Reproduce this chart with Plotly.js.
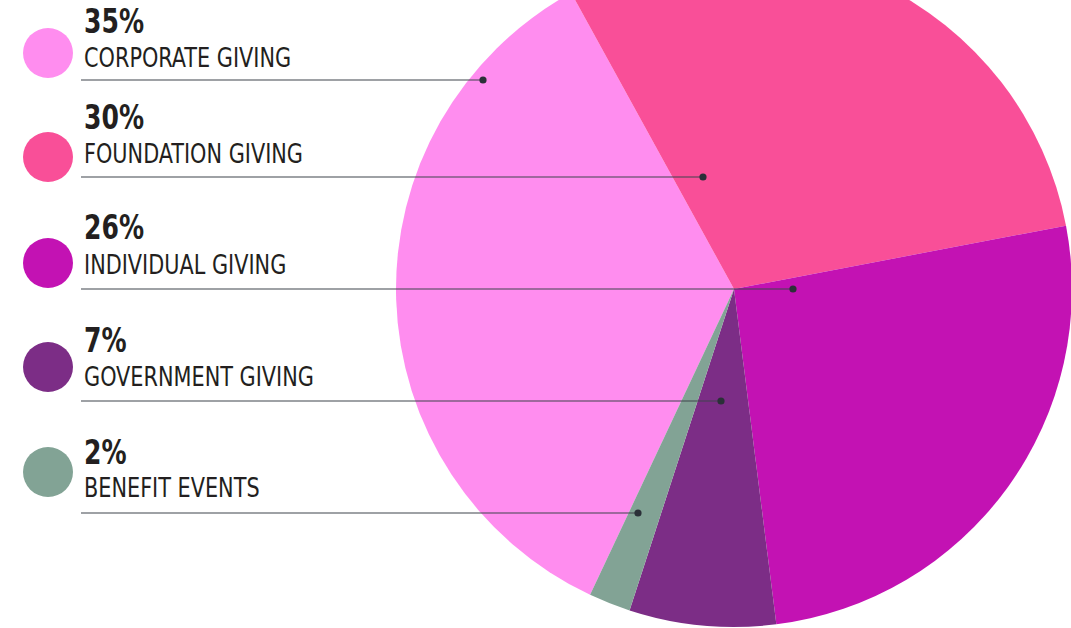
<!DOCTYPE html>
<html>
<head>
<meta charset="utf-8">
<script src="https://cdn.plot.ly/plotly-3.0.1.min.js"></script>
<style>
  html, body { margin: 0; padding: 0; background: #ffffff; overflow: hidden; width: 1071px; height: 628px; }
  #chart { position: absolute; left: 0; top: -60px; width: 1100px; height: 700px; }
</style>
</head>
<body>
<div id="chart"></div>
<script>
// ---- data ----
const categories = ["CORPORATE GIVING", "FOUNDATION GIVING", "INDIVIDUAL GIVING", "GOVERNMENT GIVING", "BENEFIT EVENTS"];
const shares = [35, 30, 26, 7, 2];
const percentLabels = ["35%", "30%", "26%", "7%", "2%"];
const colors = ["#FF8DEF", "#F94F98", "#C312B3", "#7C2D86", "#82A395"];

// ---- layout constants (pixels in the 1071x628 view) ----
const W = 1100, H = 700, T = 60;
const cx = 734, cy = 289, R = 338;
const rowPct = [20.5, 117, 227, 340, 452];
const rowLabel = [58.5, 154, 265, 377, 488];
const rowLine = [80, 177, 289, 401, 513];
const rowCircle = [53, 157, 263, 367, 472];
const dotX = [483, 703, 793, 721, 638];
const textX = 82, lineX0 = 81, circX = 48, circR = 25;
const FONT = "'DejaVu Sans Condensed', 'DejaVu Sans', sans-serif";

const px = x => x / W;
const py = y => 1 - (y + T) / H;

const trace = {
  type: "pie",
  labels: categories,
  values: shares,
  sort: false,
  direction: "clockwise",
  rotation: 205.2,
  marker: { colors: colors, line: { width: 0 } },
  textinfo: "none",
  hoverinfo: "label+percent",
  showlegend: false,
  domain: { x: [px(cx - R), px(cx + R)], y: [py(cy + R), py(cy - R)] }
};

const shapes = [];
const annotations = [];
categories.forEach((c, i) => {
  shapes.push({ type: "circle", xref: "paper", yref: "paper",
    x0: px(circX - circR), x1: px(circX + circR), y0: py(rowCircle[i] + circR), y1: py(rowCircle[i] - circR),
    fillcolor: colors[i], line: { width: 0 } });
  shapes.push({ type: "line", xref: "paper", yref: "paper",
    x0: px(lineX0), x1: px(dotX[i]), y0: py(rowLine[i]), y1: py(rowLine[i]),
    line: { color: "#3f444c", width: 1.2 } });
  shapes.push({ type: "circle", xref: "paper", yref: "paper",
    x0: px(dotX[i] - 3.6), x1: px(dotX[i] + 3.6), y0: py(rowLine[i] + 3.6), y1: py(rowLine[i] - 3.6),
    fillcolor: "#2b3038", line: { width: 0 } });
  annotations.push({ xref: "paper", yref: "paper", x: px(textX), y: py(rowPct[i]),
    xanchor: "left", yanchor: "middle", showarrow: false, text: "<b>" + percentLabels[i] + "</b>",
    font: { family: FONT, size: 34, color: "#231f20" } });
  annotations.push({ xref: "paper", yref: "paper", x: px(textX), y: py(rowLabel[i]),
    xanchor: "left", yanchor: "middle", showarrow: false, text: c,
    font: { family: FONT, size: 26, color: "#231f20" } });
});

const layout = {
  width: W, height: H,
  margin: { l: 0, r: 0, t: 0, b: 0 },
  paper_bgcolor: "#ffffff",
  plot_bgcolor: "#ffffff",
  shapes: shapes,
  annotations: annotations
};

Plotly.newPlot("chart", [trace], layout, { displayModeBar: false, staticPlot: true }).then(() => {
  // narrow the text horizontally to mimic the condensed typeface
  document.querySelectorAll("#chart .annotation-text").forEach(t => {
    const bb = t.getBBox();
    const sx = t.textContent.indexOf("%") >= 0 ? 0.82 : 0.89;
    const x0 = bb.x;
    const prev = t.getAttribute("transform") || "";
    t.setAttribute("transform", prev + " translate(" + x0 + ",0) scale(" + sx + ",1) translate(" + (-x0) + ",0)");
  });
});
</script>
</body>
</html>
